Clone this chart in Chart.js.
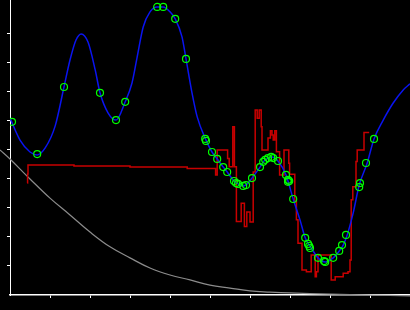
<!DOCTYPE html>
<html>
<head>
<meta charset="UTF-8">
<script src="https://cdn.jsdelivr.net/npm/chart.js"></script>
<style>
    html, body { margin: 0; padding: 0; background: #000; }
    #wrap { width: 410px; height: 310px; }
</style>
</head>
<body>
<div id="wrap"><canvas id="c" width="410" height="310"></canvas></div>
<script>
// true curve (x, y)
const curveX = [0, 0.25, 0.5, 0.68, 0.88, 1.13, 1.35, 1.5, 1.65, 1.78, 1.95, 2.13, 2.25, 2.45, 2.65, 2.88, 3.05, 3.18, 3.33, 3.5, 3.68, 3.83, 4.0, 4.13, 4.3, 4.4, 4.55, 4.68, 4.9, 5.05, 5.18, 5.33, 5.43, 5.6, 5.7, 5.83, 5.93, 6.05, 6.25, 6.35, 6.45, 6.55, 6.7, 6.9, 6.95, 7.08, 7.25, 7.38, 7.48, 7.53, 7.7, 7.88, 8.08, 8.25, 8.33, 8.43, 8.58, 8.73, 8.93, 9.1, 9.33, 9.58, 9.83, 10];
const curveY = [6.10, 5.34, 4.93, 4.83, 5.07, 5.83, 7.17, 8.10, 8.79, 9.00, 8.72, 7.76, 6.97, 6.28, 6.03, 6.66, 7.31, 8.21, 9.24, 9.76, 9.93, 9.93, 9.76, 9.52, 8.90, 8.14, 6.97, 6.14, 5.34, 4.93, 4.69, 4.41, 4.24, 3.93, 3.83, 3.76, 3.83, 4.03, 4.41, 4.62, 4.72, 4.76, 4.62, 4.14, 3.93, 3.31, 2.59, 1.97, 1.72, 1.62, 1.28, 1.14, 1.28, 1.55, 1.72, 2.07, 2.83, 3.79, 4.55, 5.38, 6.03, 6.62, 7.07, 7.28];

// samples (green circles)
const sampleX = [0.05, 0.68, 1.35, 2.25, 2.65, 2.88, 3.68, 3.83, 4.13, 4.4, 4.88, 4.9, 5.05, 5.18, 5.33, 5.43, 5.6, 5.65, 5.7, 5.83, 5.9, 6.05, 6.25, 6.33, 6.38, 6.45, 6.53, 6.58, 6.7, 6.9, 6.95, 6.95, 6.98, 7.08, 7.38, 7.45, 7.48, 7.5, 7.7, 7.85, 7.88, 8.08, 8.23, 8.3, 8.4, 8.73, 8.75, 8.9, 9.1];
const sampleY = [5.97, 4.86, 7.17, 6.97, 6.03, 6.66, 9.93, 9.93, 9.52, 8.14, 5.38, 5.31, 4.93, 4.69, 4.41, 4.24, 3.93, 3.86, 3.83, 3.76, 3.79, 4.03, 4.41, 4.59, 4.66, 4.72, 4.76, 4.72, 4.62, 4.14, 3.97, 3.90, 3.93, 3.31, 1.97, 1.76, 1.69, 1.62, 1.28, 1.17, 1.14, 1.28, 1.52, 1.72, 2.07, 3.72, 3.86, 4.55, 5.38];

// estimate (red steps)
const estX = [0.43, 0.44, 0.45, 1.6, 3.0, 4.43, 5.14, 5.18, 5.44, 5.48, 5.57, 5.61, 5.66, 5.78, 5.86, 5.92, 6.0, 6.08, 6.13, 6.18, 6.23, 6.28, 6.3, 6.45, 6.51, 6.55, 6.58, 6.62, 6.66, 6.74, 6.85, 6.97, 6.99, 7.12, 7.16, 7.2, 7.3, 7.41, 7.53, 7.63, 7.66, 7.7, 8.03, 8.13, 8.33, 8.45, 8.5, 8.53, 8.57, 8.65, 8.68, 8.85, 8.98];
const estY = [3.86, 4.17, 4.48, 4.45, 4.41, 4.36, 4.14, 5.0, 4.71, 4.42, 5.80, 4.42, 2.53, 3.16, 2.36, 2.86, 2.52, 4.24, 6.38, 6.09, 6.38, 5.80, 5.0, 5.41, 5.66, 5.52, 5.34, 5.66, 4.94, 4.14, 5.0, 4.54, 4.16, 3.22, 2.59, 1.78, 0.86, 0.80, 1.38, 0.63, 0.80, 1.38, 0.52, 0.63, 0.75, 0.80, 1.21, 3.28, 3.73, 4.60, 5.0, 5.60, 5.60];

// decay (gray)
const decayX = [-0.25, 0, 0.5, 1, 1.5, 2, 2.5, 3, 3.5, 4, 4.5, 5, 5.5, 6, 6.5, 7, 8, 9, 10];
const decayY = [5.0, 4.69, 4.0, 3.34, 2.76, 2.17, 1.66, 1.28, 0.93, 0.69, 0.52, 0.34, 0.24, 0.14, 0.10, 0.07, 0.03, 0.0, -0.03];

const pts = (xs, ys) => xs.map((x, i) => ({ x: x, y: ys[i] }));
const keepInner = axis => { axis.ticks = axis.ticks.filter(t => t.value >= 1 && t.value <= 9); };

new Chart(document.getElementById('c'), {
    type: 'line',
    data: {
        datasets: [
            {
                data: pts(sampleX, sampleY),
                showLine: false,
                pointRadius: 3.5,
                pointBorderWidth: 1.2,
                pointBorderColor: '#00ff00',
                pointBackgroundColor: 'rgba(0,0,0,0)',
                order: 0
            },
            {
                data: pts(curveX, curveY),
                borderColor: '#0a14f0',
                borderWidth: 1.5,
                pointRadius: 0,
                cubicInterpolationMode: 'monotone',
                order: 1
            },
            {
                data: pts(estX, estY),
                borderColor: '#c80000',
                borderWidth: 1.5,
                pointRadius: 0,
                stepped: true,
                order: 2
            },
            {
                data: pts(decayX, decayY),
                borderColor: '#8c8c8c',
                borderWidth: 1.2,
                pointRadius: 0,
                tension: 0.4,
                clip: false,
                order: 3
            }
        ]
    },
    options: {
        responsive: false,
        animation: false,
        layout: { autoPadding: false, padding: { left: 7, right: 0, top: 0, bottom: 12 } },
        plugins: { legend: { display: false }, tooltip: { enabled: false } },
        scales: {
            x: {
                type: 'linear', min: 0, max: 10,
                ticks: { display: false, stepSize: 1, includeBounds: false },
                afterBuildTicks: keepInner,
                grid: { drawOnChartArea: false, drawTicks: true, tickLength: 3, tickColor: '#fff', tickWidth: 1 },
                border: { color: '#fff', width: 1.5 }
            },
            y: {
                min: 0, max: 10.17,
                ticks: { display: false, stepSize: 1, includeBounds: false },
                afterBuildTicks: keepInner,
                grid: { drawOnChartArea: false, drawTicks: true, tickLength: 3, tickColor: '#fff', tickWidth: 1 },
                border: { color: '#fff', width: 1 }
            }
        }
    }
});
</script>
</body>
</html>
